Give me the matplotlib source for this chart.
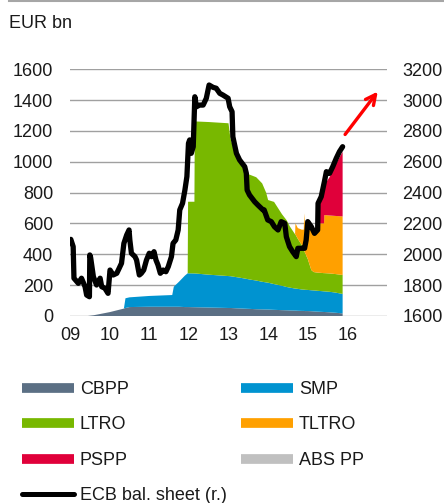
import matplotlib
matplotlib.use("Agg")
from matplotlib import pyplot as plt
from matplotlib.lines import Line2D

plt.rcParams['font.family'] = ['Liberation Sans', 'DejaVu Sans']

# ECB balance sheet (right axis, EUR bn)
bs_dates = [2009.02, 2009.08, 2009.10, 2009.21, 2009.29, 2009.38, 2009.42, 2009.49, 2009.50, 2009.52,
            2009.59, 2009.67, 2009.76, 2009.80, 2009.88, 2009.96, 2010.01, 2010.09, 2010.18, 2010.24,
            2010.30, 2010.36, 2010.43, 2010.49, 2010.51, 2010.55, 2010.64, 2010.68, 2010.75, 2010.80,
            2010.86, 2010.93, 2011.00, 2011.06, 2011.12, 2011.17, 2011.22, 2011.28, 2011.35, 2011.42,
            2011.48, 2011.56, 2011.60, 2011.67, 2011.73, 2011.77, 2011.84, 2011.90, 2011.95, 2011.99,
            2012.02, 2012.06, 2012.11, 2012.15, 2012.19, 2012.27, 2012.36, 2012.44, 2012.51, 2012.61,
            2012.69, 2012.78, 2012.86, 2012.99, 2013.03, 2013.09, 2013.11, 2013.20, 2013.28, 2013.41,
            2013.45, 2013.47, 2013.53, 2013.66, 2013.74, 2013.87, 2013.90, 2013.99, 2014.08, 2014.16,
            2014.25, 2014.33, 2014.42, 2014.46, 2014.54, 2014.62, 2014.71, 2014.75, 2014.84, 2014.92,
            2014.96, 2015.00, 2015.09, 2015.17, 2015.25, 2015.26, 2015.34, 2015.42, 2015.47, 2015.55,
            2015.63, 2015.72, 2015.80, 2015.88]
bs_values = [2097, 2050, 1845, 1812, 1845, 1790, 1736, 1725, 1996, 1980,
             1855, 1801, 1845, 1790, 1780, 1747, 1898, 1866, 1877, 1909,
             1942, 2071, 2125, 2158, 2093, 2007, 1985, 1963, 1866, 1877,
             1898, 1963, 2007, 1985, 2017, 1963, 1931, 1877, 1898, 1887,
             1920, 1985, 2071, 2093, 2158, 2288, 2331, 2417, 2504, 2720,
             2742, 2655, 2698, 3022, 2957, 2968, 2968, 3012, 3098, 3083,
             3077, 3044, 3033, 3012, 2957, 2925, 2763, 2655, 2612, 2568,
             2525, 2417, 2385, 2341, 2320, 2288, 2288, 2223, 2212, 2179,
             2158, 2212, 2201, 2114, 2050, 2017, 1985, 2039, 2039, 2039,
             2093, 2212, 2179, 2136, 2158, 2331, 2374, 2471, 2536, 2525,
             2568, 2623, 2666, 2698]

# programme holdings (left axis, EUR bn), stacked
dates = [2009.45, 2009.60, 2010.00, 2010.36, 2010.40, 2010.50, 2011.00, 2011.58, 2011.62, 2011.75,
         2011.90, 2011.97, 2011.98, 2012.14, 2012.15, 2012.50, 2013.00, 2013.05, 2013.20, 2013.30,
         2013.45, 2013.55, 2013.70, 2013.85, 2013.95, 2014.00, 2014.15, 2014.35, 2014.47, 2014.55,
         2014.68, 2014.69, 2014.75, 2014.85, 2014.90, 2014.91, 2014.93, 2015.00, 2015.09, 2015.15,
         2015.20, 2015.26, 2015.27, 2015.41, 2015.42, 2015.55, 2015.70, 2015.88]
cbpp = [0, 5, 25, 48, 52, 58, 60, 60, 60, 60,
        58, 58, 58, 57, 57, 55, 52, 52, 50, 49,
        47, 46, 44, 43, 42, 42, 40, 38, 37, 36,
        35, 35, 34, 33, 33, 33, 32, 32, 31, 30,
        29, 28, 28, 26, 26, 24, 21, 17]
smp = [0, 0, 0, 0, 63, 63, 70, 76, 130, 162,
       204, 219, 219, 219, 219, 213, 207, 206, 202, 199,
       194, 190, 186, 179, 176, 174, 167, 158, 151, 148,
       143, 143, 142, 139, 138, 138, 138, 137, 136, 136,
       136, 135, 135, 134, 134, 133, 131, 126]
ltro = [0, 0, 0, 0, 0, 0, 0, 0, 0, 0,
        0, 0, 464, 465, 986, 990, 991, 892, 778, 742,
        684, 679, 670, 638, 582, 536, 533, 464, 432, 396,
        352, 350, 324, 288, 259, 254, 240, 201, 131, 119,
        118, 118, 118, 118, 118, 119, 120, 123]
tltro = [0, 0, 0, 0, 0, 0, 0, 0, 0, 0,
         0, 0, 0, 0, 0, 0, 0, 0, 0, 0,
         0, 0, 0, 0, 0, 0, 0, 0, 0, 0,
         0, 73, 70, 100, 130, 241, 180, 210, 272, 280,
         282, 289, 320, 323, 377, 376, 377, 380]
pspp = [0, 0, 0, 0, 0, 0, 0, 0, 0, 0,
        0, 0, 0, 0, 0, 0, 0, 0, 0, 0,
        0, 0, 0, 0, 0, 0, 0, 0, 0, 0,
        0, 0, 0, 0, 0, 0, 0, 0, 0, 0,
        0, 0, 89, 239, 195, 248, 331, 419]

years = [2009, 2010, 2011, 2012, 2013, 2014, 2015, 2016]
year_labels = ['09', '10', '11', '12', '13', '14', '15', '16']

# red arrow (left-axis units)
arrow_start = (2015.90, 1163)
arrow_end = (2016.81, 1470)

colors = {'CBPP': '#5b6f84', 'SMP': '#0093d0', 'LTRO': '#78b800',
          'TLTRO': '#ffa000', 'PSPP': '#e0003a', 'ABS PP': '#c0c0c0'}
text_col = '#1a1a1a'

fig = plt.figure(figsize=(4.44, 5.03), dpi=100)
ax = fig.add_axes([70 / 444, 1 - 316 / 503, 317 / 444, 246.7 / 503])

ax.stackplot(dates, cbpp, smp, ltro, tltro, pspp,
             colors=[colors['CBPP'], colors['SMP'], colors['LTRO'], colors['TLTRO'], colors['PSPP']],
             linewidth=0)

ax.set_xlim(2009, 2017)
ax.set_ylim(0, 1600)
ax.set_yticks(range(0, 1601, 200))
ax.set_xticks(years)
ax.set_xticklabels(year_labels)
ax.set_axisbelow(True)
ax.yaxis.grid(True, color='#a0a0a0', linewidth=1.0)
for s in ax.spines.values():
    s.set_visible(False)
ax.tick_params(axis='both', length=0, labelsize=13, colors=text_col)
ax.tick_params(axis='y', pad=12)
ax.tick_params(axis='x', pad=8)

ax.annotate('', xy=arrow_end, xytext=arrow_start,
            arrowprops=dict(arrowstyle='->', color='#ff0000', lw=2.4, mutation_scale=18))

ax2 = ax.twinx()
ax2.plot(bs_dates, bs_values, color='black', linewidth=3.8, solid_joinstyle='round',
         solid_capstyle='round')
ax2.set_ylim(1600, 3200)
ax2.set_yticks(range(1600, 3201, 200))
for s in ax2.spines.values():
    s.set_visible(False)
ax2.tick_params(axis='y', length=0, labelsize=13, colors=text_col, pad=11)

# heading and top rule
fig.text(9 / 444, 1 - 28 / 503, 'EUR bn', fontsize=13, color=text_col, va='baseline')
fig.add_artist(Line2D([9 / 444, 1], [1 - 1 / 503, 1 - 1 / 503], color='#a6a6a6', linewidth=1.5))

handles = [
    Line2D([], [], color=colors['CBPP'], lw=7, solid_capstyle='butt'),
    Line2D([], [], color=colors['LTRO'], lw=7, solid_capstyle='butt'),
    Line2D([], [], color=colors['PSPP'], lw=7, solid_capstyle='butt'),
    Line2D([], [], color='black', lw=3.6, solid_capstyle='round'),
    Line2D([], [], color=colors['SMP'], lw=7, solid_capstyle='butt'),
    Line2D([], [], color=colors['TLTRO'], lw=7, solid_capstyle='butt'),
    Line2D([], [], color=colors['ABS PP'], lw=7, solid_capstyle='butt'),
]
labels = ['CBPP', 'LTRO', 'PSPP', 'ECB bal. sheet (r.)', 'SMP', 'TLTRO', 'ABS PP']
fig.legend(handles, labels, ncol=2, loc='upper left', bbox_to_anchor=(22 / 444, 1 - 381 / 503),
           frameon=False, fontsize=13, labelcolor=text_col, borderpad=0, borderaxespad=0,
           handlelength=2.9, handletextpad=0.3, labelspacing=1.02, columnspacing=0.8)

fig.savefig('out.png', dpi=100)
